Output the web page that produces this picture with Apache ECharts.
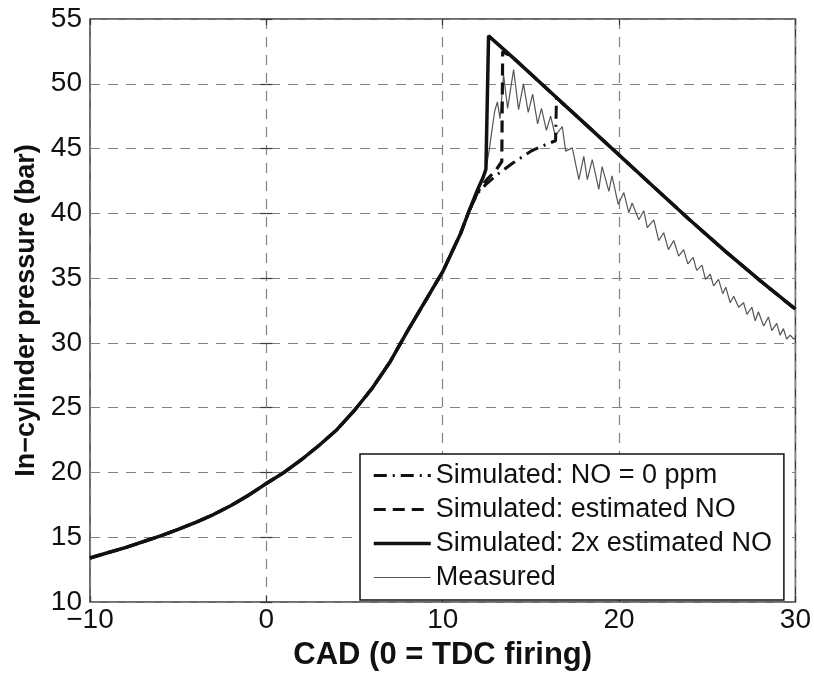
<!DOCTYPE html>
<html>
<head>
<meta charset="utf-8">
<script src="https://cdn.jsdelivr.net/npm/echarts@6/dist/echarts.min.js"></script>
<style>
  html, body {margin: 0; padding: 0; background: #fff;}
  #main {width: 814px; height: 676px;}
</style>
</head>
<body>
<div id="main"></div>
<script>
// compression part, shared by all traces
let compCad = [-10, -9, -8, -7, -6, -5, -4, -3, -2, -1, 0, 1, 2, 3, 4, 5, 6, 7, 8, 9, 10, 11, 11.5];
let compP   = [13.4, 13.8, 14.2, 14.65, 15.1, 15.6, 16.15, 16.75, 17.45, 18.25, 19.15, 20.0, 21.0, 22.1, 23.3, 24.8, 26.5, 28.5, 30.9, 33.2, 35.5, 38.4, 40.2];

// Simulated: 2x estimated NO
let twoxCad = [12, 12.3, 12.45, 12.6, 14, 16, 18, 20, 22, 24, 26, 28, 30];
let twoxP   = [41.9, 42.8, 43.4, 53.7, 52.0, 49.5, 47.0, 44.5, 42.0, 39.5, 37.1, 34.8, 32.6];

// Simulated: estimated NO
let estCad = [12, 12.5, 13, 13.35, 13.4, 14, 16, 18, 20, 22, 24, 26, 28, 30];
let estP   = [41.7, 42.6, 43.3, 44.0, 52.5, 52.0, 49.5, 47.0, 44.5, 42.0, 39.5, 37.1, 34.8, 32.6];

// Simulated: NO = 0 ppm
let zeroCad = [12, 12.5, 13, 14, 15, 16, 16.4, 16.45, 18, 20, 22, 24, 26, 28, 30];
let zeroP   = [41.6, 42.3, 42.9, 43.9, 44.8, 45.4, 45.6, 48.9, 47.0, 44.5, 42.0, 39.5, 37.1, 34.8, 32.6];

// Measured (peaks and troughs of the ringing)
let measCad = [12, 12.3, 12.5, 12.65, 12.8, 12.95, 13.1, 13.25, 13.45, 13.68, 14.02, 14.3, 14.58, 14.85, 15.1, 15.38,
  15.6, 15.88, 16.12, 16.38, 16.78, 16.97, 17.35, 17.72, 18.0, 18.2, 18.48, 18.85, 19.04, 19.42, 19.6, 19.95,
  20.27, 20.55, 20.74, 21.12, 21.4, 21.6, 21.97, 22.25, 22.53, 22.8, 23.1, 23.38, 23.66, 23.9, 24.2, 24.4,
  24.7, 24.9, 25.17, 25.36, 25.64, 25.88, 26.05, 26.3, 26.5, 26.78, 27.06, 27.25, 27.53, 27.72, 27.9, 28.2,
  28.47, 28.66, 28.94, 29.13, 29.32, 29.5, 29.7, 29.9, 30];
let measP = [41.9, 42.9, 43.8, 45.0, 46.5, 47.9, 48.6, 47.3, 50.7, 48.1, 51.1, 48.0, 50.0, 47.8, 49.2, 46.9,
  48.1, 46.4, 47.5, 46.0, 46.7, 44.8, 45.05, 42.6, 44.4, 42.6, 44.15, 41.85, 43.6, 41.7, 42.9, 40.7,
  41.6, 40.05, 40.8, 39.5, 40.2, 38.9, 39.5, 37.9, 38.5, 37.2, 37.9, 36.7, 37.2, 36.1, 36.6, 35.6,
  36.0, 34.9, 35.3, 34.4, 34.9, 33.8, 34.3, 33.1, 33.6, 32.75, 33.1, 32.2, 32.75, 31.7, 32.4, 31.3,
  32.0, 30.95, 31.5, 30.6, 31.1, 30.3, 30.6, 30.3, 30.4];

let legendNames = ['Simulated: NO = 0 ppm', 'Simulated: estimated NO', 'Simulated: 2x estimated NO', 'Measured'];

function pairs(xs, ys){
    let out = [];
    for (let i = 0; i < compCad.length; i++) out.push([compCad[i], compP[i]]);
    for (let i = 0; i < xs.length; i++) out.push([xs[i], ys[i]]);
    return out;
}

let txt = '#111';
let boxColor = '#3a3a3a';
let gridLine = {show: true, lineStyle: {color: '#828282', width: 1.2, type: [10, 8]}};
let tickStyle = {show: true, inside: true, length: 6, lineStyle: {color: boxColor, width: 1.2}};
let fmtX = v => v < 0 ? '\u2212' + Math.abs(v) : String(v);

// [name, width, colour, dash]
let styles = [
    [legendNames[0], 3, '#111', [13, 6, 2, 6]],
    [legendNames[1], 3.2, '#111', [12, 7]],
    [legendNames[2], 3.5, '#111', 'solid'],
    [legendNames[3], 1.2, '#555', 'solid']
];

function lineSeries(i, data, z){
    let s = styles[i];
    return {
        type: 'line', name: s[0], data: data, z: z,
        symbol: 'none', showSymbol: false, animation: false,
        lineStyle: {width: s[1], color: s[2], type: s[3]},
        itemStyle: {color: s[2]}
    };
}

let legendData = styles.map(s => ({
    name: s[0],
    itemStyle: {opacity: 0},
    lineStyle: {width: s[1], color: s[2], type: s[3]}
}));

let option = {
    backgroundColor: '#fff',
    animation: false,
    grid: {left: 90, right: 17, top: 19, bottom: 72, show: true, borderColor: boxColor, borderWidth: 1.5, backgroundColor: 'transparent'},
    legend: {
        orient: 'vertical', left: 360, top: 454,
        width: 427,
        backgroundColor: '#fff', borderColor: '#111', borderWidth: 1.5, borderRadius: 0,
        padding: [8, 12, 9, 12],
        itemWidth: 57, itemHeight: 14, itemGap: 7,
        itemStyle: {opacity: 0},
        textStyle: {fontFamily: 'Liberation Sans', fontSize: 27, color: txt, lineHeight: 27},
        data: legendData
    },
    xAxis: [{
        type: 'value', min: -10, max: 30, interval: 10,
        name: 'CAD (0 = TDC firing)', nameLocation: 'middle', nameGap: 38,
        nameTextStyle: {fontFamily: 'Liberation Sans', fontWeight: 'bold', fontSize: 31, color: txt},
        axisLine: {show: false},
        axisTick: tickStyle,
        axisLabel: {fontFamily: 'Liberation Sans', fontSize: 28, color: txt, margin: 4, formatter: fmtX},
        splitLine: gridLine
    }, {
        type: 'value', min: -10, max: 30, interval: 10, position: 'top',
        axisLine: {show: false}, axisTick: tickStyle,
        axisLabel: {show: false}, splitLine: {show: false}
    }],
    yAxis: [{
        type: 'value', min: 10, max: 55, interval: 5,
        name: 'In\u2212cylinder pressure (bar)', nameLocation: 'middle', nameGap: 44, nameRotate: 90,
        nameTextStyle: {fontFamily: 'Liberation Sans', fontWeight: 'bold', fontSize: 27, color: txt},
        axisLine: {show: false}, axisTick: tickStyle,
        axisLabel: {fontFamily: 'Liberation Sans', fontSize: 28, color: txt, margin: 8},
        splitLine: gridLine
    }, {
        type: 'value', min: 10, max: 55, interval: 5, position: 'right',
        axisLine: {show: false}, axisTick: tickStyle,
        axisLabel: {show: false}, splitLine: {show: false}
    }],
    series: [
        lineSeries(0, pairs(zeroCad, zeroP), 3),
        lineSeries(1, pairs(estCad, estP), 4),
        lineSeries(2, pairs(twoxCad, twoxP), 5),
        lineSeries(3, pairs(measCad, measP), 2)
    ]
};

var chart = echarts.init(document.getElementById('main'), null, {renderer: 'canvas'});
chart.setOption(option);
</script>
</body>
</html>
